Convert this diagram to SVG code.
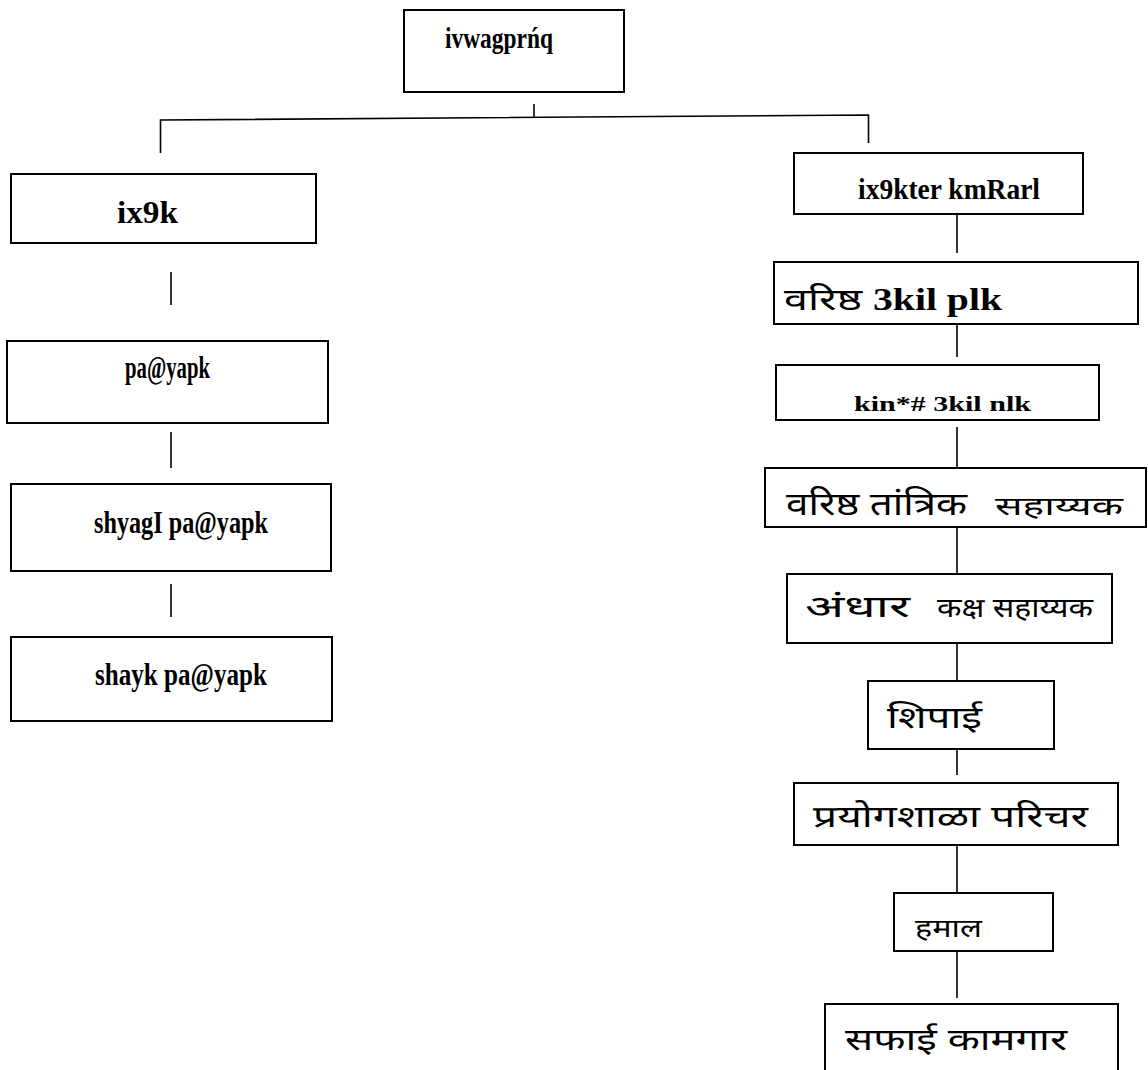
<svg xmlns="http://www.w3.org/2000/svg" width="1148" height="1070" viewBox="0 0 1148 1070">
<style>
.box{fill:#fff;stroke:#000;stroke-width:2}
.con{fill:none;stroke:#000;stroke-width:1.6}
.lat{font-family:"Liberation Serif","Times New Roman",serif;font-weight:bold;fill:#000}
.dev{font-family:"Noto Sans Devanagari","Lohit Devanagari","Mangal","Noto Sans",sans-serif;fill:#000}
</style>
<rect width="1148" height="1070" fill="#fff"/>
<g id="connectors">
<line class="con" x1="534" y1="104" x2="534" y2="118"/>
<polyline class="con" points="160.5,153 160.5,120 868.5,115 868.5,143"/>
<line class="con" x1="171" y1="272" x2="171" y2="305"/>
<line class="con" x1="171" y1="432" x2="171" y2="468"/>
<line class="con" x1="171" y1="584" x2="171" y2="617"/>
<line class="con" x1="957" y1="214" x2="957" y2="253"/>
<line class="con" x1="957" y1="324" x2="957" y2="357"/>
<line class="con" x1="957" y1="427" x2="957" y2="467"/>
<line class="con" x1="957" y1="527" x2="957" y2="573"/>
<line class="con" x1="957" y1="643" x2="957" y2="680"/>
<line class="con" x1="957" y1="749" x2="957" y2="775"/>
<line class="con" x1="957" y1="845" x2="957" y2="893"/>
<line class="con" x1="957" y1="951" x2="957" y2="998"/>
</g>
<g id="n-top">
<rect class="box" x="404" y="10" width="220" height="82"/>
<text class="lat" x="445" y="48" font-size="30" textLength="108" lengthAdjust="spacingAndGlyphs">ivwagprńq</text>
</g>
<g id="n-ix9k">
<rect class="box" x="11" y="174" width="305" height="69"/>
<text class="lat" x="117" y="223" font-size="31" textLength="61" lengthAdjust="spacingAndGlyphs">ix9k</text>
</g>
<g id="n-payapk">
<rect class="box" x="7" y="341" width="321" height="82"/>
<text class="lat" x="125" y="378" font-size="32" textLength="85" lengthAdjust="spacingAndGlyphs">pa@yapk</text>
</g>
<g id="n-shyagi">
<rect class="box" x="11" y="484" width="320" height="87"/>
<text class="lat" x="94" y="533" font-size="32" textLength="174" lengthAdjust="spacingAndGlyphs">shyagI pa@yapk</text>
</g>
<g id="n-shayk">
<rect class="box" x="11" y="637" width="321" height="84"/>
<text class="lat" x="95" y="685" font-size="32" textLength="172" lengthAdjust="spacingAndGlyphs">shayk pa@yapk</text>
</g>
<g id="n-ix9kter">
<rect class="box" x="794" y="153" width="289" height="61"/>
<text class="lat" x="858" y="199" font-size="29" textLength="182" lengthAdjust="spacingAndGlyphs">ix9kter kmRarl</text>
</g>
<g id="n-varishtha-lipik">
<rect class="box" x="774" y="262" width="364" height="62"/>
<text class="dev" x="784" y="310" font-size="31" textLength="78" lengthAdjust="spacingAndGlyphs">वरिष्ठ</text>
<text class="lat" x="873" y="310" font-size="31" textLength="129" lengthAdjust="spacingAndGlyphs">3kil plk</text>
</g>
<g id="n-kanishtha-lipik">
<rect class="box" x="776" y="365" width="323" height="55"/>
<text class="lat" x="854" y="411" font-size="22" textLength="177" lengthAdjust="spacingAndGlyphs">kin*#  3kil nlk</text>
</g>
<g id="n-tantrik">
<rect class="box" x="765" y="468" width="381" height="59"/>
<text class="dev" x="786" y="515" font-size="32" textLength="181" lengthAdjust="spacingAndGlyphs">वरिष्ठ तांत्रिक</text>
<text class="dev" x="995" y="515" font-size="26" textLength="128" lengthAdjust="spacingAndGlyphs">सहाय्यक</text>
</g>
<g id="n-andhar">
<rect class="box" x="787" y="574" width="325" height="69"/>
<text class="dev" x="805" y="617" font-size="31" textLength="105" lengthAdjust="spacingAndGlyphs">अंधार</text>
<text class="dev" x="937" y="617" font-size="27" textLength="156" lengthAdjust="spacingAndGlyphs">कक्ष सहाय्यक</text>
</g>
<g id="n-shipai">
<rect class="box" x="868" y="681" width="186" height="68"/>
<text class="dev" x="887" y="728" font-size="30" textLength="95" lengthAdjust="spacingAndGlyphs">शिपाई</text>
</g>
<g id="n-prayogshala">
<rect class="box" x="794" y="783" width="324" height="62"/>
<text class="dev" x="813" y="827" font-size="30" textLength="275" lengthAdjust="spacingAndGlyphs">प्रयोगशाळा परिचर</text>
</g>
<g id="n-hamal">
<rect class="box" x="894" y="893" width="159" height="58"/>
<text class="dev" x="915" y="937" font-size="25" textLength="67" lengthAdjust="spacingAndGlyphs">हमाल</text>
</g>
<g id="n-safai">
<rect class="box" x="825" y="1004" width="293" height="80"/>
<text class="dev" x="845" y="1050" font-size="30" textLength="222" lengthAdjust="spacingAndGlyphs">सफाई कामगार</text>
</g>
</svg>
